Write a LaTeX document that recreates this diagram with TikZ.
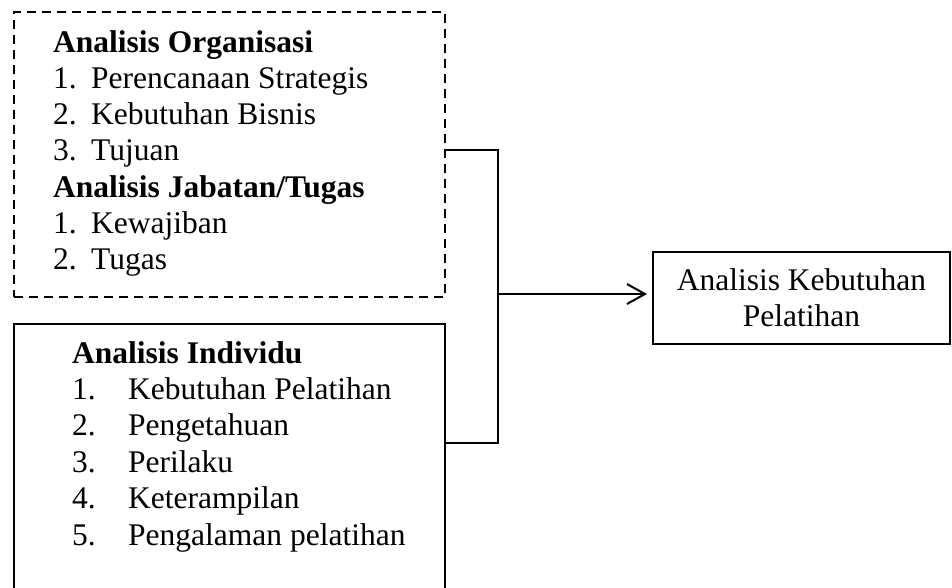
\documentclass[tikz,border=0pt]{standalone}
\usepackage{fontspec}
\setmainfont{Liberation Serif}
\usetikzlibrary{arrows.meta,positioning}

\begin{document}
\begin{tikzpicture}[
  x=1pt, y=-1pt,
  >={Straight Barb[length=18pt,width=20pt,line width=2pt]},
  frame/.style={draw, line width=2pt, inner sep=0pt, anchor=north west},
  dashframe/.style={frame, dash pattern=on 9pt off 6pt},
  list/.style={anchor=base west, inner sep=0pt, font=\fontsize{31.5}{36.3}\selectfont},
  link/.style={draw, line width=1.3pt}
]
\clip (0,0) rectangle (952,587);

% Frames
\node[dashframe, minimum width=431pt, minimum height=285pt] (org) at (13,11) {};
\node[frame, minimum width=431pt, minimum height=300pt] (ind) at (13,323) {};
\node[frame, anchor=center, minimum width=297pt, minimum height=92pt, align=center,
  font=\fontsize{31.5}{36}\selectfont] (need) at (801.5,298) {Analisis Kebutuhan\\Pelatihan};

% Lists
\node[list] (orglist) at (53,52) {\begin{tabular}[t]{@{}l@{}}
\textbf{Analisis Organisasi}\\
\makebox[38pt][l]{1.}Perencanaan Strategis\\
\makebox[38pt][l]{2.}Kebutuhan Bisnis\\
\makebox[38pt][l]{3.}Tujuan\\
\textbf{Analisis Jabatan/Tugas}\\
\makebox[38pt][l]{1.}Kewajiban\\
\makebox[38pt][l]{2.}Tugas
\end{tabular}};
\node[list, font=\fontsize{31.5}{36.4}\selectfont] (indlist) at (72,363) {\begin{tabular}[t]{@{}l@{}}
\textbf{Analisis Individu}\\
\makebox[56pt][l]{1.}Kebutuhan Pelatihan\\
\makebox[56pt][l]{2.}Pengetahuan\\
\makebox[56pt][l]{3.}Perilaku\\
\makebox[56pt][l]{4.}Keterampilan\\
\makebox[56pt][l]{5.}Pengalaman pelatihan
\end{tabular}};

% Connectors
\coordinate (join) at (498,294);
\draw[link] ([yshift=4.5pt]org.east) -| (join) |- ([yshift=-120pt]ind.north east);
\draw[->, line width=2pt, shorten >=5pt] (join) -- (join -| need.west);

\end{tikzpicture}
\end{document}
